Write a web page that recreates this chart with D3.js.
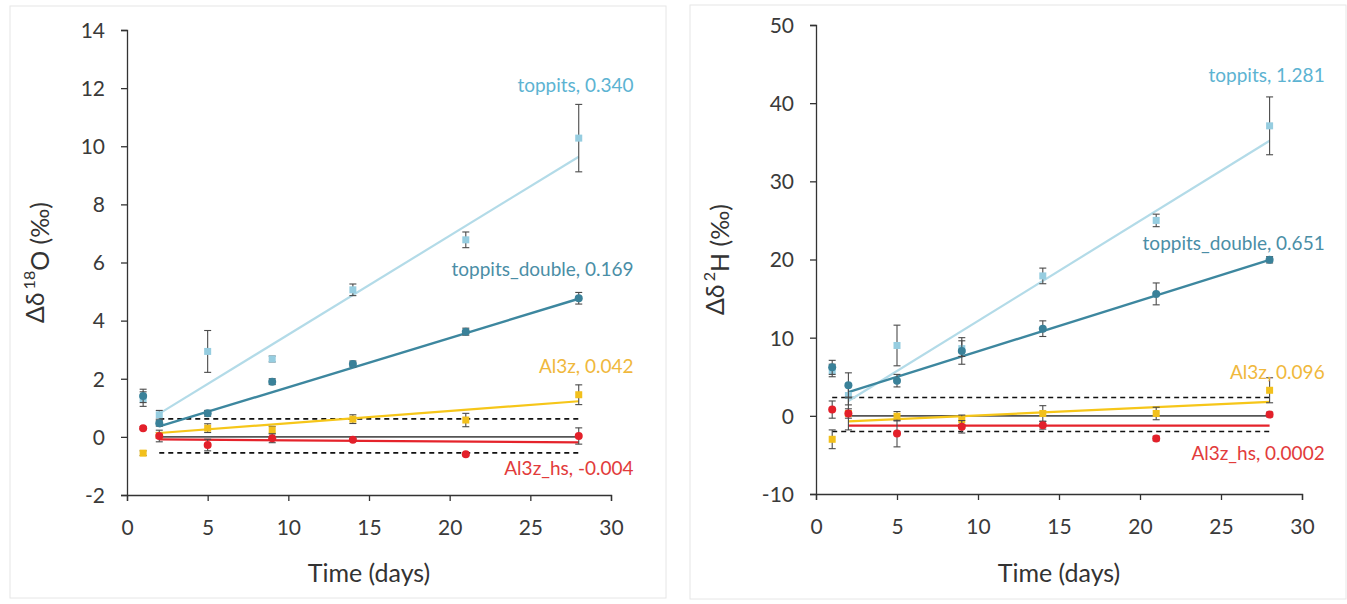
<!DOCTYPE html>
<html>
<head>
<meta charset="utf-8">
<script src="https://cdn.jsdelivr.net/npm/d3@7"></script>
<style>
  body { margin: 0; background: #fff; }
  text { font-family: Lato, "Open Sans", sans-serif; }
</style>
</head>
<body>
<div class="chart"></div>
<script>
// sampling days
const days = [1, 2, 5, 9, 14, 21, 28];

// delta 18O (permil)
const o18Toppits = [1.3, 0.76, 2.94, 2.68, 5.06, 6.78, 10.28];
const o18ToppitsErr = [0.25, 0.15, 0.72, 0.1, 0.2, 0.27, 1.16];
const o18Double = [1.41, 0.47, 0.81, 1.9, 2.51, 3.62, 4.77];
const o18DoubleErr = [0.23, 0.1, 0.1, 0.1, 0.1, 0.12, 0.2];
const o18Al3z = [-0.56, 0.05, 0.3, 0.24, 0.61, 0.58, 1.45];
const o18Al3zErr = [0.08, 0.1, 0.15, 0.12, 0.15, 0.23, 0.34];
const o18Al3zHs = [0.3, 0.03, -0.28, -0.05, -0.1, -0.6, 0.03];
const o18Al3zHsErr = [0.05, 0.2, 0.2, 0.15, 0.05, 0.05, 0.28];

// delta 2H (permil)
const h2Toppits = [5.8, 2.6, 9.0, 8.6, 17.9, 25.0, 37.1];
const h2ToppitsErr = [0.8, 1.2, 2.6, 1.0, 1.0, 0.8, 3.7];
const h2Double = [6.2, 3.9, 4.5, 8.3, 11.15, 15.6, 19.96];
const h2DoubleErr = [0.9, 1.6, 0.8, 1.7, 1.0, 1.4, 0.4];
const h2Al3z = [-3.0, 0.3, -0.05, -0.5, 0.3, 0.3, 3.27];
const h2Al3zErr = [1.2, 0.6, 0.6, 0.6, 1.0, 0.8, 1.6];
const h2Al3zHs = [0.8, 0.3, -2.27, -1.4, -1.2, -2.9, 0.17];
const h2Al3zHsErr = [1.1, 2.1, 1.7, 0.8, 0.5, 0.3, 0.3];

// linear trend: slope (label value) and intercept, fitted over days 2-28
const seriesNames = ["toppits", "toppits_double", "Al3z", "Al3z_hs"];
const o18Slopes = [0.34, 0.169, 0.042, -0.004];
const o18Intercepts = [0.12, 0.02, 0.05, -0.08];
const h2Slopes = [1.281, 0.651, 0.096, 0.0002];
const h2Intercepts = [-0.67, 1.73, -0.91, -1.25];
const slopeLabels18 = ["0.340", "0.169", "0.042", "-0.004"];
const slopeLabels2 = ["1.281", "0.651", "0.096", "0.0002"];
const trendDays = [2, 28];

// dashed uncertainty band
const o18Band = [0.62, -0.55];
const h2Band = [2.35, -2.0];

const xTicks = [0, 5, 10, 15, 20, 25, 30];
const o18Ticks = [-2, 0, 2, 4, 6, 8, 10, 12, 14];
const h2Ticks = [-10, 0, 10, 20, 30, 40, 50];

const styles = [
  { line: "#b3dbe8", marker: "#96cde0", text: "#5cb3d2", shape: "square" },
  { line: "#3d879f", marker: "#3a8199", text: "#4a8ea6", shape: "circle" },
  { line: "#f6c619", marker: "#f2c01c", text: "#f0b83c", shape: "square" },
  { line: "#e5232b", marker: "#e3202a", text: "#e23b3b", shape: "circle" }
];

const svg = d3.select(".chart").append("svg")
  .attr("width", 1347).attr("height", 604);

function drawPanel(cfg) {
  const g = svg.append("g");

  g.append("rect")
    .attr("x", cfg.box[0]).attr("y", cfg.box[1])
    .attr("width", cfg.box[2]).attr("height", cfg.box[3])
    .attr("fill", "none").attr("stroke", "#e6e6e6");

  const x = d3.scaleLinear().domain([0, 30]).range(cfg.xRange);
  const y = d3.scaleLinear().domain(cfg.yDomain).range(cfg.yRange);

  const plain = (d) => String(d);
  const xAxis = g.append("g")
    .attr("transform", `translate(0, ${cfg.yRange[0]})`)
    .call(d3.axisBottom(x).tickValues(xTicks).tickFormat(plain).tickSize(6).tickPadding(19));
  const yAxis = g.append("g")
    .attr("transform", `translate(${cfg.xRange[0]}, 0)`)
    .call(d3.axisLeft(y).tickValues(cfg.yTicks).tickFormat(plain).tickSize(6).tickPadding(16));
  [xAxis, yAxis].forEach((a) => {
    a.select(".domain").attr("stroke", "#333").attr("stroke-width", 1.3);
    a.selectAll(".tick line").attr("stroke", "#333").attr("stroke-width", 1.3);
    a.selectAll(".tick text")
      .attr("fill", "#3a3a3a")
      .style("font-size", "21px");
  });
  yAxis.selectAll(".tick text").attr("dy", "0.35em");

  g.append("text")
    .attr("x", (cfg.xRange[0] + cfg.xRange[1]) / 2)
    .attr("y", 582)
    .attr("text-anchor", "middle")
    .attr("fill", "#333")
    .style("font-size", "25px")
    .text("Time (days)");

  const yt = g.append("text")
    .attr("transform", `translate(${cfg.titleX}, ${(cfg.yRange[0] + cfg.yRange[1]) / 2}) rotate(-90)`)
    .attr("text-anchor", "middle")
    .attr("fill", "#333")
    .style("font-size", "25px");
  yt.append("tspan").text("Δδ\u2009");
  yt.append("tspan").attr("dy", "-0.55em").style("font-size", "16px").text(cfg.isotope);
  yt.append("tspan").attr("dy", "0.55em").text(cfg.element + " (‰)");

  // zero line
  g.append("line")
    .attr("x1", x(trendDays[0])).attr("x2", x(trendDays[1]))
    .attr("y1", y(0)).attr("y2", y(0))
    .attr("stroke", "#555").attr("stroke-width", 1.6);

  // dashed band
  cfg.band.forEach((v) => {
    g.append("line")
      .attr("x1", x(cfg.bandStart)).attr("x2", x(trendDays[1]))
      .attr("y1", y(v)).attr("y2", y(v))
      .attr("stroke", "#111").attr("stroke-width", 1.6)
      .attr("stroke-dasharray", "5,4");
  });

  // trend lines
  [3, 2, 0, 1].forEach((i) => {
    const line = d3.line()
      .x((d) => x(d))
      .y((d) => y(cfg.slopes[i] * d + cfg.intercepts[i]));
    g.append("path")
      .datum(trendDays)
      .attr("fill", "none")
      .attr("stroke", styles[i].line)
      .attr("stroke-width", i === 1 ? 2.4 : 2.2)
      .attr("d", line);
  });

  // error bars and markers
  [2, 0, 1, 3].forEach((i) => {
    const pts = days.map((d, k) => ({ day: d, v: cfg.values[i][k], e: cfg.errors[i][k] }));
    const eb = g.append("g").attr("stroke", "#4a4a4a").attr("stroke-width", 1.1);
    pts.forEach((p) => {
      eb.append("line")
        .attr("x1", x(p.day)).attr("x2", x(p.day))
        .attr("y1", y(p.v - p.e)).attr("y2", y(p.v + p.e));
      [p.v - p.e, p.v + p.e].forEach((c) => {
        eb.append("line")
          .attr("x1", x(p.day) - 3.5).attr("x2", x(p.day) + 3.5)
          .attr("y1", y(c)).attr("y2", y(c));
      });
    });
    const mk = g.append("g").attr("fill", styles[i].marker);
    if (styles[i].shape === "square") {
      mk.selectAll("rect").data(pts).enter().append("rect")
        .attr("x", (d) => x(d.day) - 3.5)
        .attr("y", (d) => y(d.v) - 3.5)
        .attr("width", 7).attr("height", 7);
    } else {
      mk.selectAll("circle").data(pts).enter().append("circle")
        .attr("cx", (d) => x(d.day))
        .attr("cy", (d) => y(d.v))
        .attr("r", 4);
    }
  });

  // slope labels
  seriesNames.forEach((name, i) => {
    g.append("text")
      .attr("x", x(cfg.labelDay))
      .attr("y", y(cfg.labelValues[i]))
      .attr("dy", "0.35em")
      .attr("text-anchor", "end")
      .attr("fill", styles[i].text)
      .style("font-size", "19px")
      .text(name + ", " + cfg.slopeText[i]);
  });
}

drawPanel({
  box: [10, 6, 656, 592],
  xRange: [127, 611],
  yDomain: [-2, 14],
  yRange: [495, 30],
  yTicks: o18Ticks,
  titleX: 44,
  isotope: "18",
  element: "O",
  band: o18Band,
  bandStart: 2,
  values: [o18Toppits, o18Double, o18Al3z, o18Al3zHs],
  errors: [o18ToppitsErr, o18DoubleErr, o18Al3zErr, o18Al3zHsErr],
  slopes: o18Slopes,
  intercepts: o18Intercepts,
  slopeText: slopeLabels18,
  labelDay: 31.4,
  labelValues: [12.08, 5.78, 2.41, -1.07]
});

drawPanel({
  box: [690, 5, 656, 594],
  xRange: [816, 1302],
  yDomain: [-10, 50],
  yRange: [494, 25],
  yTicks: h2Ticks,
  titleX: 724,
  isotope: "2",
  element: "H",
  band: h2Band,
  bandStart: 1,
  values: [h2Toppits, h2Double, h2Al3z, h2Al3zHs],
  errors: [h2ToppitsErr, h2DoubleErr, h2Al3zErr, h2Al3zHsErr],
  slopes: h2Slopes,
  intercepts: h2Intercepts,
  slopeText: slopeLabels2,
  labelDay: 31.4,
  labelValues: [43.6, 22.1, 5.6, -4.8]
});
</script>
</body>
</html>
